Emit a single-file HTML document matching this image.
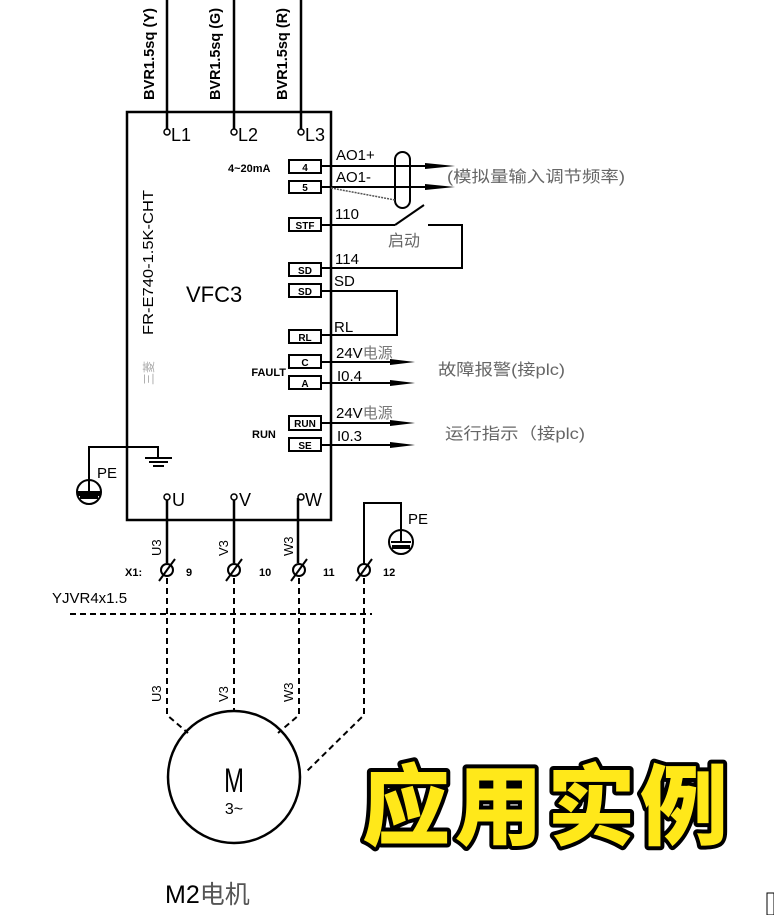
<!DOCTYPE html>
<html><head><meta charset="utf-8"><style>
html,body{margin:0;padding:0;background:#fff;width:774px;height:915px;overflow:hidden}
svg text{font-family:"Liberation Sans","Noto Sans CJK SC",sans-serif}
</style></head><body>
<svg width="774" height="915" viewBox="0 0 774 915" xmlns="http://www.w3.org/2000/svg">
<g stroke="#000" stroke-width="2.5" fill="none">
<line x1="167" y1="0" x2="167" y2="132"/><line x1="234" y1="0" x2="234" y2="132"/><line x1="301" y1="0" x2="301" y2="132"/>
<rect x="127" y="112" width="204" height="408"/>
</g>
<g font-size="15" fill="#000" font-weight="bold">
<text transform="translate(154,100) rotate(-90)" textLength="92" lengthAdjust="spacingAndGlyphs">BVR1.5sq (Y)</text>
<text transform="translate(220,100) rotate(-90)" textLength="92" lengthAdjust="spacingAndGlyphs">BVR1.5sq (G)</text>
<text transform="translate(287,100) rotate(-90)" textLength="92" lengthAdjust="spacingAndGlyphs">BVR1.5sq (R)</text>
</g>
<g fill="#fff" stroke="#000" stroke-width="1.5">
<circle cx="167" cy="132" r="3"/><circle cx="234" cy="132" r="3"/><circle cx="301" cy="132" r="3"/>
</g>
<g font-size="18" fill="#000"><text x="171" y="141">L1</text><text x="238" y="141">L2</text><text x="305" y="141">L3</text></g>
<g stroke="#000" stroke-width="2" fill="#fff">
<rect x="289" y="160" width="32" height="13"/><rect x="289" y="181" width="32" height="12"/>
<rect x="289" y="218" width="32" height="13"/><rect x="289" y="263" width="32" height="13"/>
<rect x="289" y="284" width="32" height="13"/><rect x="289" y="330" width="32" height="13"/>
<rect x="289" y="355" width="32" height="13"/><rect x="289" y="376" width="32" height="13"/>
<rect x="289" y="416" width="32" height="14"/><rect x="289" y="438" width="32" height="13"/>
</g>
<g font-size="10" fill="#000" text-anchor="middle" font-weight="bold">
<text x="305" y="171">4</text><text x="305" y="191">5</text><text x="305" y="229">STF</text>
<text x="305" y="274">SD</text><text x="305" y="295">SD</text><text x="305" y="341">RL</text>
<text x="305" y="366">C</text><text x="305" y="387">A</text><text x="305" y="427">RUN</text><text x="305" y="449">SE</text>
</g>
<g stroke="#000" stroke-width="2" fill="none">
<line x1="321" y1="166" x2="440" y2="166"/><line x1="321" y1="187" x2="440" y2="187"/>
<line x1="321" y1="225" x2="395" y2="225"/><line x1="395" y1="225" x2="424" y2="205"/>
<polyline points="428,225 462,225 462,268 321,268"/>
<polyline points="321,291 397,291 397,335 321,335"/>
<line x1="321" y1="362" x2="405" y2="362"/><line x1="321" y1="383" x2="405" y2="383"/>
<line x1="321" y1="423" x2="405" y2="423"/><line x1="321" y1="445" x2="405" y2="445"/>
<rect x="395" y="152" width="15" height="56" rx="7.5"/>
</g>
<line x1="331" y1="188" x2="395" y2="200" stroke="#555" stroke-width="1.5" stroke-dasharray="2,1"/>
<g fill="#000">
<polygon points="455,166 425,163 425,169"/><polygon points="455,187 425,184 425,190"/>
<polygon points="415,362 390,359 390,365"/><polygon points="415,383 390,380 390,386"/>
<polygon points="415,423 390,420 390,426"/><polygon points="415,445 390,442 390,448"/>
</g>
<g font-size="15" fill="#000">
<text x="336" y="160">AO1+</text><text x="336" y="182">AO1-</text>
<text x="335" y="219">110</text><text x="335" y="264">114</text><text x="334" y="286">SD</text><text x="334" y="332">RL</text>
<text x="336" y="358">24V<tspan fill="#777">电源</tspan></text><text x="337" y="381">I0.4</text>
<text x="336" y="418">24V<tspan fill="#777">电源</tspan></text><text x="337" y="441">I0.3</text>
</g>
<g font-size="16" fill="#666">
<text x="447" y="182" textLength="178" lengthAdjust="spacingAndGlyphs">(模拟量输入调节频率)</text>
<text x="388" y="246">启动</text>
<text x="438" y="375" textLength="127" lengthAdjust="spacingAndGlyphs">故障报警(接plc)</text>
<text x="445" y="439" textLength="140" lengthAdjust="spacingAndGlyphs">运行指示（接plc)</text>
</g>
<g font-size="11" fill="#000" font-weight="bold">
<text x="228" y="172">4~20mA</text><text x="286" y="376" text-anchor="end">FAULT</text><text x="252" y="438">RUN</text>
</g>
<text x="186" y="302" font-size="22" fill="#000">VFC3</text>
<text transform="translate(153,335) rotate(-90)" font-size="15" fill="#000" textLength="145" lengthAdjust="spacingAndGlyphs">FR-E740-1.5K-CHT</text>
<text transform="translate(153,385) rotate(-90)" font-size="12" fill="#aaa">三菱</text>
<g stroke="#000" stroke-width="2" fill="none">
<polyline points="127,447 89,447 89,480"/>
<polyline points="127,447 158,447 158,458"/>
<line x1="145" y1="458" x2="172" y2="458"/><line x1="149" y1="462" x2="168" y2="462"/><line x1="153" y1="466" x2="164" y2="466"/>
<circle cx="89" cy="492" r="12"/>
<polyline points="364,565 364,503 401,503 401,530"/>
<circle cx="401" cy="542" r="12"/>
</g>
<g fill="#000">
<path d="M79,492 h20 v3 h-20z M89,481 v11" stroke="#000" stroke-width="2"/><rect x="80" y="495" width="18" height="4"/>
<path d="M391,542 h20 M401,531 v11" stroke="#000" stroke-width="2"/><rect x="392" y="545" width="18" height="4"/>
</g>
<g font-size="15" fill="#000"><text x="97" y="478">PE</text><text x="408" y="524">PE</text></g>
<g stroke="#000" stroke-width="2.5"><line x1="167" y1="498" x2="167" y2="563"/><line x1="234" y1="498" x2="234" y2="563"/><line x1="298" y1="498" x2="298" y2="563"/></g>
<g fill="#fff" stroke="#000" stroke-width="1.5"><circle cx="167" cy="497" r="3"/><circle cx="234" cy="497" r="3"/><circle cx="301" cy="497" r="3"/></g>
<g font-size="18" fill="#000"><text x="172" y="506">U</text><text x="239" y="506">V</text><text x="305" y="506">W</text></g>
<g font-size="13" fill="#000">
<text transform="translate(161,556) rotate(-90)">U3</text><text transform="translate(228,556) rotate(-90)">V3</text><text transform="translate(293,556) rotate(-90)">W3</text>
</g>
<g stroke="#000" stroke-width="2" fill="#fff">
<circle cx="167" cy="570" r="6"/><circle cx="234" cy="570" r="6"/><circle cx="299" cy="570" r="6"/><circle cx="364" cy="570" r="6"/>
</g>
<g stroke="#000" stroke-width="2"><line x1="159" y1="581" x2="175" y2="559"/><line x1="226" y1="581" x2="242" y2="559"/><line x1="291" y1="581" x2="307" y2="559"/><line x1="356" y1="581" x2="372" y2="559"/></g>
<g font-size="11" fill="#000" font-weight="bold"><text x="125" y="576">X1:</text><text x="186" y="576">9</text><text x="259" y="576">10</text><text x="323" y="576">11</text><text x="383" y="576">12</text></g>
<text x="52" y="603" font-size="15" fill="#000">YJVR4x1.5</text>
<g stroke="#000" stroke-width="2" fill="none" stroke-dasharray="6,4">
<line x1="70" y1="614" x2="372" y2="614"/>
<polyline points="167,578 167,715 188,733"/>
<line x1="234" y1="578" x2="234" y2="711"/>
<polyline points="299,578 299,715 278,733"/>
<polyline points="364,578 364,715 305,773"/>
</g>
<g font-size="13" fill="#000">
<text transform="translate(161,702) rotate(-90)">U3</text><text transform="translate(228,702) rotate(-90)">V3</text><text transform="translate(293,702) rotate(-90)">W3</text>
</g>
<circle cx="234" cy="777" r="66" stroke="#000" stroke-width="2.5" fill="none"/>
<text x="234" y="792" font-size="34" text-anchor="middle" fill="#000" transform="translate(234,0) scale(0.7,1) translate(-234,0)">M</text>
<text x="234" y="814" font-size="16" text-anchor="middle" fill="#000">3~</text>
<text x="165" y="903" font-size="25" fill="#000">M2<tspan fill="#555">电机</tspan></text>
<text x="362" y="838" font-size="88" font-weight="900" fill="#ffe81a" stroke="#000" stroke-width="8" paint-order="stroke" stroke-linejoin="round" font-family="Noto Sans CJK SC,sans-serif" textLength="366">应用实例</text>
<rect x="767" y="893" width="7" height="22" fill="none" stroke="#000" stroke-width="1"/>
</svg>
</body></html>
